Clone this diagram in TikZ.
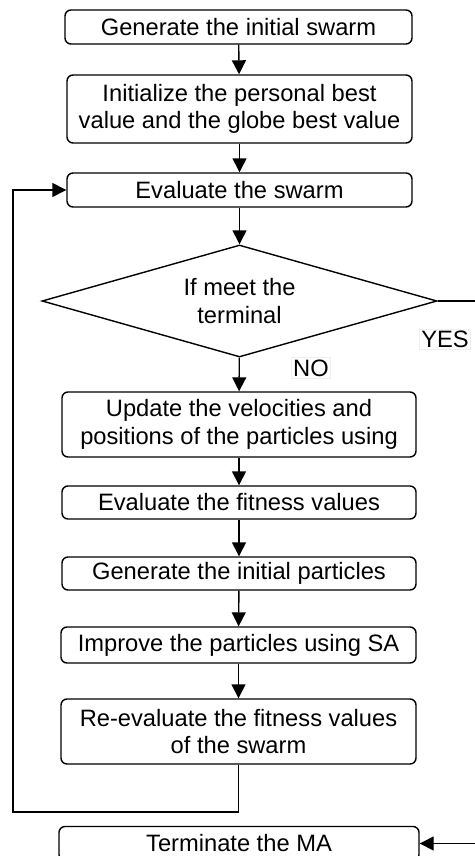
\documentclass[tikz,border=0pt]{standalone}
\usepackage{fontspec}
\setmainfont{Liberation Sans}
\usetikzlibrary{shapes.geometric,arrows.meta}
\begin{document}
\begin{tikzpicture}[x=1pt,y=-1pt,
  every node/.style={font=\fontsize{23.7}{27.5}\selectfont},
  box/.style={draw,line width=1.4pt,rounded corners=6pt,inner sep=0pt,align=center},
  dec/.style={draw,line width=1.4pt,diamond,aspect=3.5,inner sep=0pt,align=center},
  lbl/.style={draw=black!6,line width=0.8pt,inner sep=2pt},
  arr/.style={line width=1.4pt,-{Triangle[length=14pt,width=14pt]}},
  ln/.style={line width=1.4pt}]
\useasboundingbox (0,0) rectangle (474,856);
\node[box,minimum width=347pt,minimum height=34pt] (b1) at (238.5,27) {Generate the initial swarm};
\node[box,minimum width=345pt,minimum height=68pt] (b2) at (239.5,109) {Initialize the personal best\\value and the globe best value};
\node[box,minimum width=345pt,minimum height=34pt] (b3) at (239.5,190) {Evaluate the swarm};
\node[dec,minimum width=395pt,minimum height=112pt] (d) at (239.5,301) {If meet the\\terminal};
\node[box,minimum width=354pt,minimum height=65pt] (b4) at (239,424.5) {Update the velocities and\\positions of the particles using};
\node[box,minimum width=354pt,minimum height=33pt] (b5) at (239,502.5) {Evaluate the fitness values};
\node[box,minimum width=354pt,minimum height=33pt] (b6) at (239,573.5) {Generate the initial particles};
\node[box,minimum width=355pt,minimum height=36pt] (b7) at (238.5,645) {Improve the particles using SA};
\node[box,minimum width=355pt,minimum height=65pt] (b8) at (238.5,731.5) {Re-evaluate the fitness values\\of the swarm};
\node[box,minimum width=360pt,minimum height=34pt] (t) at (239,843.5) {Terminate the MA};
\node[lbl] (yes) at (445,339.5) {YES};
\node[lbl] (no) at (311,368) {NO};
\coordinate (lb) at (13,812);
\coordinate (rc) at (490,301);
\draw[arr] (b1) -- (b2);
\draw[arr] (b2) -- (b3);
\draw[arr] (b3) -- (d);
\draw[arr] (d) -- (b4);
\draw[arr] (b4) -- (b5);
\draw[arr] (b5) -- (b6);
\draw[arr] (b6) -- (b7);
\draw[arr] (b7) -- (b8);
\draw[arr] (b8.south) |- (lb) |- (b3.west);
\draw[arr] (d.east) -- (rc) |- (t.east);
\end{tikzpicture}
\end{document}
